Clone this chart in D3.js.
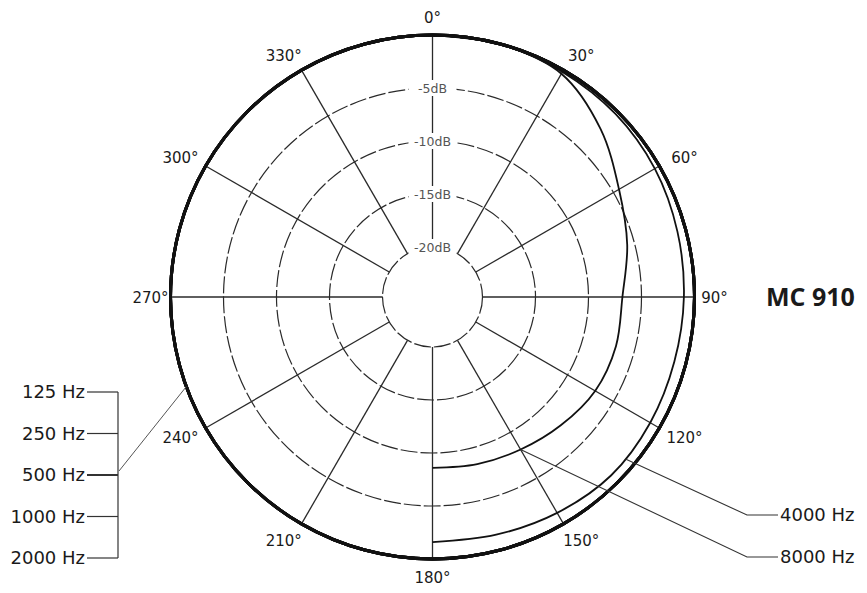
<!DOCTYPE html>
<html><head><meta charset="utf-8">
<script src="https://cdn.jsdelivr.net/npm/d3@7"></script>
<style>body{margin:0;background:#fff}svg{display:block}</style>
</head><body>
<svg id="c" width="867" height="593"></svg>
<script>
// ---- data ----
const angleTicks = [0, 30, 60, 90, 120, 150, 180, 210, 240, 270, 300, 330];
const dbRings = [-5, -10, -15, -20];
const dbLabels = ["-5dB", "-10dB", "-15dB", "-20dB"];
const lowFreqs = ["125 Hz", "250 Hz", "500 Hz", "1000 Hz", "2000 Hz"];
const lowAngles = [0,15,30,45,60,75,90,105,120,135,150,165,180,195,210,225,240,255,270,285,300,315,330,345];
const lowDb = [0,0,0,0,0,0,0,0,0,0,0,0,0,0,0,0,0,0,0,0,0,0,0,0];
const highAngles = [0,15,30,45,60,75,90,105,120,135,150,165,180];
const hz4000 = [0, 0, -0.2, -0.3, -0.5, -0.8, -1.0, -1.1, -1.0, -0.9, -1.2, -1.5, -1.6];
const hz8000 = [0, -0.05, -0.4, -2.3, -4.4, -5.7, -6.8, -6.8, -7.0, -7.6, -8.1, -8.4, -8.6];
const highFreqs = ["4000 Hz", "8000 Hz"];
const highLeaderAngle = [130, 150];
const title = "MC 910";

// ---- layout ----
const svg = d3.select("#c");
const cx = 432.5, cy = 297;
const r = d3.scaleLinear().domain([-20, 0]).range([50, 262]);
const ang = d3.scaleLinear().domain([0, 360]).range([0, 2 * Math.PI]);
const g = svg.append("g").attr("transform", `translate(${cx},${cy})`);
const pt = (a, rad) => [rad * Math.sin(ang(a)), -rad * Math.cos(ang(a))];

// rings
g.selectAll("circle.ring").data(dbRings).join("circle")
  .attr("r", d => r(d)).attr("fill", "none")
  .attr("stroke", "#2a2a2a").attr("stroke-width", 1.2)
  .attr("stroke-dasharray", "17,3");

// spokes
g.selectAll("line.spoke").data(angleTicks).join("line")
  .attr("x1", d => pt(d, r(-20))[0]).attr("y1", d => pt(d, r(-20))[1])
  .attr("x2", d => pt(d, r(0))[0]).attr("y2", d => pt(d, r(0))[1])
  .attr("stroke", "#2a2a2a").attr("stroke-width", 1.3);

// dB labels
const dbl = g.selectAll("g.dbl").data(dbRings).join("g")
  .attr("transform", d => `translate(0,${-r(d)})`);
dbl.append("rect").attr("x", -24).attr("y", -8).attr("width", 48).attr("height", 16).attr("fill", "#fff");
dbl.append("text").text((d, i) => dbLabels[i])
  .attr("text-anchor", "middle").attr("dy", "0.36em")
  .attr("font-family", "DejaVu Sans").attr("font-size", 12.5).attr("fill", "#555");

// angle labels
const labX = a => { const s = Math.sin(ang(a)); return s * 282 + Math.sign(Math.round(s * 1000)) * 9 * Math.abs(Math.sin(2 * ang(a))); };
const labY = a => -Math.cos(ang(a)) * 280 + 1;
g.selectAll("text.ang").data(angleTicks).join("text")
  .attr("x", d => labX(d)).attr("y", d => labY(d))
  .attr("dy", "0.36em").attr("text-anchor", "middle")
  .attr("font-family", "DejaVu Sans").attr("font-size", 15).attr("fill", "#1a1a1a")
  .text(d => d + "°");

// curves
const lineFull = d3.lineRadial().angle(d => ang(d[0])).radius(d => r(d[1])).curve(d3.curveCatmullRomClosed);
const lineHalf = d3.lineRadial().angle(d => ang(d[0])).radius(d => r(d[1])).curve(d3.curveCatmullRom);

lowFreqs.forEach(f => {
  g.append("path").datum(lowAngles.map((a, i) => [a, lowDb[i]]))
    .attr("d", lineFull).attr("fill", "none").attr("stroke", "#111").attr("stroke-width", 3);
});
[hz4000, hz8000].forEach(arr => {
  g.append("path").datum(highAngles.map((a, i) => [a, arr[i]]))
    .attr("d", lineHalf).attr("fill", "none").attr("stroke", "#111").attr("stroke-width", 1.8);
});

// left legend
const ly = d3.scalePoint().domain(lowFreqs).range([392, 558]);
const leg = svg.append("g");
leg.selectAll("text").data(lowFreqs).join("text")
  .attr("x", 85).attr("y", d => ly(d)).attr("dy", "0.36em").attr("text-anchor", "end")
  .attr("font-family", "DejaVu Sans").attr("font-size", 18).attr("fill", "#1a1a1a").text(d => d);
leg.selectAll("line.tick").data(lowFreqs).join("line")
  .attr("x1", 87).attr("x2", 118).attr("y1", d => ly(d)).attr("y2", d => ly(d))
  .attr("stroke", "#333").attr("stroke-width", (d, i) => i === 2 ? 2 : 1.2);
leg.append("line").attr("x1", 118).attr("x2", 118)
  .attr("y1", ly(lowFreqs[0])).attr("y2", ly(lowFreqs[4]))
  .attr("stroke", "#333").attr("stroke-width", 1.2);
const lp = pt(250, r(0));
leg.append("line").attr("x1", 119).attr("y1", 471).attr("x2", cx + lp[0]).attr("y2", cy + lp[1])
  .attr("stroke", "#555").attr("stroke-width", 1);

// right legend
const ry = d3.scalePoint().domain(highFreqs).range([515, 557]);
const highData = [hz4000, hz8000];
highFreqs.forEach((f, i) => {
  const a = highLeaderAngle[i];
  const idx = highAngles.indexOf(a);
  const val = idx >= 0 ? highData[i][idx] : (highData[i][Math.floor(a / 15)] + highData[i][Math.ceil(a / 15)]) / 2;
  const p = pt(a, r(val));
  svg.append("polyline")
    .attr("points", `${cx + p[0]},${cy + p[1]} 747,${ry(f)} 778,${ry(f)}`)
    .attr("fill", "none").attr("stroke", "#333").attr("stroke-width", 1.1);
  svg.append("text").attr("x", 780).attr("y", ry(f)).attr("dy", "0.36em")
    .attr("font-family", "DejaVu Sans").attr("font-size", 18).attr("fill", "#1a1a1a").text(f);
});

// title
svg.append("text").attr("x", 766).attr("y", 297).attr("dy", "0.36em")
  .attr("font-family", "Open Sans").attr("font-weight", 700).attr("font-size", 25)
  .attr("fill", "#1a1a1a").text(title);
</script>
</body></html>
